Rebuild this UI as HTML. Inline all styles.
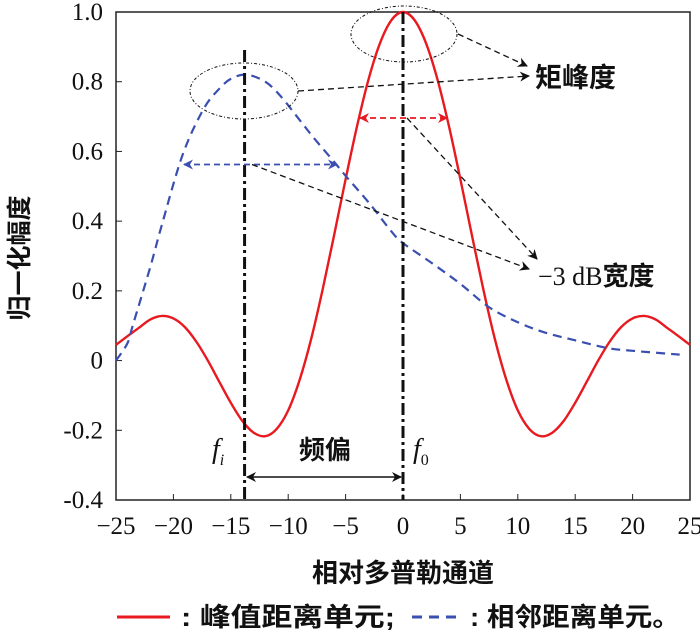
<!DOCTYPE html>
<html><head><meta charset="utf-8"><style>
html,body{margin:0;padding:0;background:#fff;}
svg{display:block;}
text{font-family:"Liberation Serif","Noto Serif CJK SC",serif;fill:#111;}
.cjk{font-family:"Liberation Sans","Noto Sans CJK SC",sans-serif;font-weight:bold;}
</style></head><body>
<svg id="chart" width="700" height="630" viewBox="0 0 700 630">
<defs>
<marker id="ah" markerWidth="10" markerHeight="10" refX="9" refY="5" orient="auto" markerUnits="userSpaceOnUse"><path d="M0,0 L10,5 L0,10 L3,5 Z" fill="#111"/></marker>
<marker id="ahr" markerWidth="10" markerHeight="10" refX="9" refY="5" orient="auto-start-reverse" markerUnits="userSpaceOnUse"><path d="M0,0 L10,5 L0,10 L3,5 Z" fill="#e8191f"/></marker>
<marker id="ahb" markerWidth="10" markerHeight="10" refX="9" refY="5" orient="auto-start-reverse" markerUnits="userSpaceOnUse"><path d="M0,0 L10,5 L0,10 L3,5 Z" fill="#3a4fb0"/></marker>
<marker id="ahk" markerWidth="10" markerHeight="10" refX="9" refY="5" orient="auto-start-reverse" markerUnits="userSpaceOnUse"><path d="M0,0 L10,5 L0,10 L3,5 Z" fill="#111"/></marker>
</defs>
<g id="plot"></g>
<ellipse cx="404" cy="34" rx="53" ry="28" fill="none" stroke="#111" stroke-width="1" stroke-dasharray="3,2,1,2"/>
<ellipse cx="244" cy="91" rx="54" ry="28" fill="none" stroke="#111" stroke-width="1" stroke-dasharray="3,2,1,2"/>
<line x1="458" y1="34" x2="527" y2="66" stroke="#111" stroke-width="1.3" stroke-dasharray="6,4" marker-end="url(#ah)"/>
<line x1="298" y1="91" x2="529" y2="76" stroke="#111" stroke-width="1.3" stroke-dasharray="6,4" marker-end="url(#ah)"/>
<text x="535" y="87" font-size="27" class="cjk">矩峰度</text>
<line x1="360" y1="118" x2="447" y2="118" stroke="#e8191f" stroke-width="1.8" stroke-dasharray="6,4" marker-start="url(#ahr)" marker-end="url(#ahr)"/>
<line x1="184" y1="164.5" x2="337" y2="164.5" stroke="#3a4fb0" stroke-width="1.8" stroke-dasharray="6,4" marker-start="url(#ahb)" marker-end="url(#ahb)"/>
<line x1="407" y1="118" x2="537" y2="259" stroke="#111" stroke-width="1.3" stroke-dasharray="6,4" marker-end="url(#ah)"/>
<line x1="252" y1="164.5" x2="529" y2="269" stroke="#111" stroke-width="1.3" stroke-dasharray="6,4" marker-end="url(#ah)"/>
<text x="538" y="285" font-size="26">−3 dB<tspan class="cjk" font-size="26">宽度</tspan></text>
<line x1="247" y1="477" x2="401" y2="477" stroke="#111" stroke-width="1.5" marker-start="url(#ahk)" marker-end="url(#ahk)"/>
<text x="325" y="459" font-size="26" text-anchor="middle" class="cjk">频偏</text>
<text x="212" y="458" font-size="28" font-style="italic">f<tspan font-size="16" dy="7">i</tspan></text>
<text x="413" y="458" font-size="28" font-style="italic">f<tspan font-size="16" dy="7" font-style="normal">0</tspan></text>
<text x="20" y="258" font-size="25" class="cjk" text-anchor="middle" transform="rotate(-90 20 258)" dominant-baseline="central">归一化幅度</text>
<text x="403" y="582" font-size="26" class="cjk" text-anchor="middle">相对多普勒通道</text>
<g>
<line x1="117" y1="617" x2="170" y2="617" stroke="#e8191f" stroke-width="3"/>
<text x="181" y="626" font-size="26" class="cjk" textLength="214" lengthAdjust="spacingAndGlyphs">: 峰值距离单元;</text>
<line x1="412" y1="617" x2="462" y2="617" stroke="#3a4fb0" stroke-width="3" stroke-dasharray="10,7"/>
<text x="470" y="626" font-size="26" class="cjk" textLength="210" lengthAdjust="spacingAndGlyphs">: 相邻距离单元。</text>
</g>
</svg>
<script>
const xTicks=[-25,-20,-15,-10,-5,0,5,10,15,20,25];
const yTicks=[1.0,0.8,0.6,0.4,0.2,0,-0.2,-0.4];
const yTickLabels=["1.0","0.8","0.6","0.4","0.2","0","-0.2","-0.4"];
const redX=[-25,-24,-23,-22,-21,-20,-19,-18,-17,-16,-15,-14,-13,-12,-11,-10,-9,-8,-7,-6,-5,-4,-3,-2,-1,0,1,2,3,4,5,6,7,8,9,10,11,12,13,14,15,16,17,18,19,20,21,22,23,24,25];
const redY=[0.045,0.07,0.094,0.118,0.128,0.121,0.096,0.054,0,-0.061,-0.121,-0.173,-0.207,-0.217,-0.196,-0.143,-0.055,0.062,0.204,0.36,0.52,0.673,0.807,0.911,0.977,1.0,0.977,0.911,0.807,0.673,0.52,0.36,0.204,0.062,-0.055,-0.143,-0.196,-0.217,-0.207,-0.173,-0.121,-0.061,0,0.054,0.096,0.121,0.128,0.118,0.094,0.07,0.045];
const blueX=[-25,-24,-23.5,-22,-21,-19.2,-17.4,-16,-14.9,-13.6,-12,-10.7,-9,-7.8,-6,-5,-2.9,-1,0,2.5,5,7.5,10,12.4,15,17.8,20,24.1];
const blueY=[0,0.05,0.105,0.27,0.39,0.59,0.72,0.78,0.81,0.82,0.8,0.76,0.69,0.64,0.57,0.53,0.45,0.37,0.337,0.28,0.22,0.153,0.11,0.08,0.058,0.036,0.028,0.017];
const L=116,R=690,T=12,B=500,xMin=-25,xMax=25,yMin=-0.4,yMax=1.0;
const sx=v=>L+(v-xMin)/(xMax-xMin)*(R-L);
const sy=v=>B-(v-yMin)/(yMax-yMin)*(B-T);
const NS="http://www.w3.org/2000/svg";
const g=document.getElementById('plot');
function mk(tag,attrs,parent){const e=document.createElementNS(NS,tag);for(const k in attrs)e.setAttribute(k,attrs[k]);(parent||g).appendChild(e);return e;}
function smooth(xs,ys){
 const p=xs.map((x,i)=>[sx(x),sy(ys[i])]);
 let d='M'+p[0][0]+','+p[0][1];
 for(let i=0;i<p.length-1;i++){
  const p0=p[Math.max(0,i-1)],p1=p[i],p2=p[i+1],p3=p[Math.min(p.length-1,i+2)];
  const c1=[p1[0]+(p2[0]-p0[0])/6,p1[1]+(p2[1]-p0[1])/6];
  const c2=[p2[0]-(p3[0]-p1[0])/6,p2[1]-(p3[1]-p1[1])/6];
  d+=' C'+c1[0]+','+c1[1]+' '+c2[0]+','+c2[1]+' '+p2[0]+','+p2[1];
 }
 return d;
}
let fr=mk('rect',{x:L,y:T,width:R-L,height:B-T,fill:'none',stroke:'#222','stroke-width':1.5});


xTicks.forEach(t=>{
 let tk=mk('line',{x1:sx(t),x2:sx(t),y1:B,y2:B-6,stroke:'#222','stroke-width':1});
 
 
 let tl=mk('text',{x:sx(t),y:534,'text-anchor':'middle','font-size':25});
 tl.textContent=(t<0?'\u2212'+(-t):String(t));
 
 
});
yTicks.forEach((t,i)=>{
 let tk=mk('line',{x1:L,x2:L+6,y1:sy(t),y2:sy(t),stroke:'#222','stroke-width':1});
 
 
 let tl=mk('text',{x:103,y:sy(t)+8,'text-anchor':'end','font-size':25});
 tl.textContent=yTickLabels[i];
 
 
});
let rp=mk('path',{d:smooth(redX,redY),fill:'none',stroke:'#e8191f','stroke-width':2.4});


let bp=mk('path',{d:smooth(blueX,blueY),fill:'none',stroke:'#3a4fb0','stroke-width':2.2,'stroke-dasharray':'9,6'});


let v0=mk('line',{x1:sx(0),x2:sx(0),y1:T,y2:B,stroke:'#111','stroke-width':3,'stroke-dasharray':'12,4,3,4'});


let vi=mk('line',{x1:sx(-13.8),x2:sx(-13.8),y1:50,y2:B,stroke:'#111','stroke-width':3,'stroke-dasharray':'12,4,3,4'});


</script>
</body></html>
